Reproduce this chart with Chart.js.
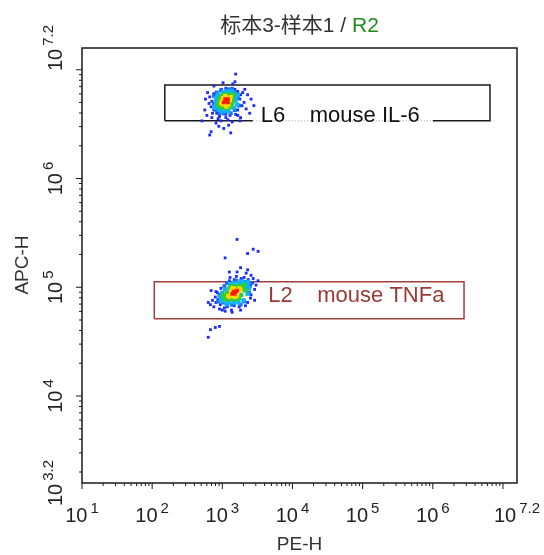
<!DOCTYPE html>
<html>
<head>
<meta charset="utf-8">
<script src="https://cdn.jsdelivr.net/npm/chart.js@4/dist/chart.umd.min.js"></script>
<style>
  html, body { margin: 0; padding: 0; background: #ffffff; }
  #grafico { display: block; }
</style>
</head>
<body>
<canvas id="grafico" width="544" height="555"></canvas>
<script>
// todos los valores en exponente log10 (PE-H, APC-H)
const xTicks = [1, 2, 3, 4, 5, 6, 7.2];
const xTickLabels = ['1', '2', '3', '4', '5', '6', '7.2'];
const yTicks = [3.2, 4, 5, 6, 7.2];
const yTickLabels = ['3.2', '4', '5', '6', '7.2'];

const gateIL6 = [[2.18, 6.53], [6.815, 6.86]];
const gateTNF = [[2.03, 4.71], [6.445, 5.05]];
const gateNames = ['L6', 'L2'];
const gateLabels = ['mouse IL-6', 'mouse TNFa'];

// cluster IL-6 (por densidad)
const il6Red = [[3.05,6.71],[3.08,6.70],[3.04,6.73],[3.06,6.72],[3.02,6.70],[3.08,6.73]];
const il6Yellow = [[2.99,6.71],[3.11,6.72],[3.05,6.75],[3.05,6.67],[3.01,6.74],[3.09,6.68],
  [3.01,6.68],[3.09,6.74],[3.12,6.75],[2.98,6.69],[3.06,6.66],[3.04,6.76]];
const il6Green = [[2.95,6.71],[3.15,6.71],[3.05,6.77],[3.05,6.65],[2.98,6.76],[3.12,6.66],
  [2.98,6.66],[3.12,6.76],[2.95,6.68],[3.15,6.74],[3.01,6.65],[3.09,6.77],[2.96,6.73],
  [3.14,6.69],[3.08,6.65],[3.02,6.77],[3.16,6.77],[2.94,6.67]];
const il6Cyan = [[2.91,6.71],[3.19,6.72],[3.05,6.80],[3.05,6.62],[2.94,6.77],[3.16,6.65],
  [2.94,6.65],[3.16,6.78],[2.91,6.67],[3.19,6.76],[2.99,6.62],[3.11,6.80],[2.91,6.74],
  [3.21,6.68],[3.09,6.62],[3.01,6.79],[2.96,6.63],[3.14,6.80],[3.22,6.77],[2.89,6.65]];
const il6Azure = [[2.88,6.69],[3.22,6.74],[3.08,6.82],[3.02,6.60],[2.92,6.79],[3.18,6.63],
  [2.92,6.63],[3.18,6.79],[2.88,6.76],[3.24,6.67],[3.12,6.60],[2.98,6.81],[2.89,6.65],
  [3.21,6.77],[3.14,6.82],[2.96,6.60]];
const il6Blue = [[2.85,6.71],[3.25,6.73],[3.05,6.83],[3.05,6.59],[2.88,6.78],[3.22,6.63],
  [2.88,6.63],[3.22,6.80],[2.84,6.66],[3.26,6.77],[2.96,6.59],[3.14,6.83],[2.82,6.75],
  [3.28,6.67],[3.11,6.58],[2.99,6.82],[2.92,6.60],[3.18,6.82],[3.29,6.79],[2.81,6.69],
  [2.86,6.60],[3.19,6.59],[2.94,6.55],[3.08,6.54],[2.98,6.53],[3.14,6.52],[2.91,6.51],
  [3.02,6.46],[2.84,6.43],[3.12,6.42],[2.78,6.58],[2.75,6.63],[2.76,6.73],[3.32,6.82],
  [3.36,6.77],[3.41,6.73],[3.34,6.64],[3.39,6.60],[3.18,6.89],[3.19,6.96],[3.15,6.87],
  [3.01,6.88],[2.88,6.85],[3.26,6.56],[2.96,6.57],[3.05,6.56],[3.22,6.58],[2.85,6.56],
  [3.31,6.70],[2.79,6.79],[3.09,6.49],[2.95,6.48],[3.25,6.53],[3.45,6.67],[2.71,6.53],
  [2.82,6.40]];

// cluster TNFa
const tnfRed = [[3.17,4.95],[3.20,4.96],[3.14,4.94],[3.18,4.94],[3.16,4.96],[3.21,4.97]];
const tnfYellow = [[3.11,4.93],[3.23,4.97],[3.17,4.99],[3.17,4.91],[3.13,4.97],[3.21,4.92],
  [3.10,4.91],[3.24,4.99],[3.26,4.98],[3.08,4.92],[3.18,4.91],[3.14,4.99]];
const tnfGreen = [[3.06,4.92],[3.28,4.98],[3.17,5.01],[3.17,4.89],[3.10,4.99],[3.24,4.90],
  [3.08,4.89],[3.26,5.01],[3.04,4.89],[3.30,5.00],[3.13,4.89],[3.21,5.01],[3.07,4.95],
  [3.27,4.93],[3.21,4.89],[3.13,5.01],[3.31,5.02],[3.03,4.90],[3.01,4.93],[3.33,4.97]];
const tnfCyan = [[3.00,4.90],[3.34,5.00],[3.17,5.04],[3.17,4.86],[3.04,4.98],[3.30,4.88],
  [3.03,4.87],[3.31,5.04],[2.98,4.88],[3.36,5.02],[3.10,4.86],[3.24,5.04],[3.00,4.95],
  [3.36,4.94],[3.23,4.86],[3.11,5.03],[3.06,4.85],[3.28,5.05],[3.37,5.05],[2.97,4.91],
  [3.38,4.99]];
const tnfAzure = [[2.97,4.89],[3.37,5.01],[3.20,5.06],[3.14,4.84],[3.03,5.01],[3.31,4.87],
  [3.01,4.86],[3.33,5.05],[2.96,4.93],[3.38,4.95],[3.26,4.84],[3.08,5.04],[3.07,4.83],
  [3.27,5.06],[3.40,5.03],[2.94,4.87]];
const tnfBlue = [[2.94,4.89],[3.40,5.01],[3.17,5.07],[3.17,4.83],[2.98,4.99],[3.36,4.86],
  [2.97,4.84],[3.37,5.07],[2.91,4.86],[3.43,5.04],[3.07,4.82],[3.27,5.08],[2.93,4.95],
  [3.41,4.93],[3.24,4.82],[3.10,5.06],[3.03,4.81],[3.31,5.09],[3.44,5.08],[2.90,4.91],
  [3.46,4.98],[3.00,4.79],[3.13,4.79],[3.26,4.79],[2.88,4.82],[2.86,4.88],[3.48,5.02],
  [3.51,5.06],[3.41,5.11],[3.34,5.13],[2.96,4.80],[3.06,5.04],[3.20,5.10],[3.33,4.83],
  [3.40,4.90],[2.83,4.84],[3.14,4.77],[3.04,4.78],[2.91,4.96],[3.46,4.88],
  [3.21,5.44],[3.04,5.27],[3.36,5.31],[3.44,5.35],[3.51,5.33],[3.10,5.14],[3.21,5.14],
  [3.26,5.18],[3.36,5.16],[3.11,5.09],[2.83,4.61],[2.90,4.63],[2.96,4.64],[2.80,4.54],
  [2.84,4.97],[2.80,4.86]];

const FUENTE = '"Liberation Sans", Arial, "Noto Sans CJK SC", sans-serif';

function pts(arr) {
    return arr.map(p => ({ x: 10 ** p[0], y: 10 ** p[1] }));
}

function caja(g) {
    const [[x1, y1], [x2, y2]] = g;
    return pts([[x1, y1], [x2, y1], [x2, y2], [x1, y2], [x1, y1]]);
}

function nube(datos, color, r) {
    return {
        data: pts(datos),
        backgroundColor: color,
        borderWidth: 0,
        pointStyle: 'rect',
        pointRadius: r
    };
}

// ejes, etiquetas y textos de las puertas
const decoracion = {
    id: 'decoracion',
    afterDraw(chart) {
        const ctx = chart.ctx;
        const xs = chart.scales.x, ys = chart.scales.y;
        const a = chart.chartArea;
        ctx.save();

        // etiquetas de puertas
        const g1x = xs.getPixelForValue(10 ** gateIL6[0][0]);
        const g1y = ys.getPixelForValue(10 ** gateIL6[0][1]);
        ctx.fillStyle = '#ffffff';
        ctx.fillRect(g1x + 88, g1y - 11, 180, 20);
        ctx.strokeStyle = '#999';
        ctx.lineWidth = 1;
        ctx.setLineDash([1, 2]);
        ctx.beginPath();
        ctx.moveTo(g1x + 88, g1y);
        ctx.lineTo(g1x + 268, g1y);
        ctx.stroke();
        ctx.setLineDash([]);
        ctx.font = '22px ' + FUENTE;
        ctx.fillStyle = '#111';
        ctx.textBaseline = 'middle';
        ctx.textAlign = 'left';
        ctx.fillText(gateNames[0], g1x + 96, g1y - 5);
        ctx.fillText(gateLabels[0], g1x + 145, g1y - 5);

        const g2x = xs.getPixelForValue(10 ** gateTNF[0][0]);
        const g2y = (ys.getPixelForValue(10 ** gateTNF[0][1]) + ys.getPixelForValue(10 ** gateTNF[1][1])) / 2;
        ctx.fillStyle = '#9a3a36';
        ctx.fillText(gateNames[1], g2x + 114, g2y - 4);
        ctx.fillText(gateLabels[1], g2x + 163, g2y - 4);

        // marco
        ctx.strokeStyle = '#1a1a1a';
        ctx.lineWidth = 1.5;
        ctx.strokeRect(a.left, a.top, a.right - a.left, a.bottom - a.top);

        // marcas menores y mayores
        ctx.lineWidth = 1;
        for (let d = 1; d < 8; d++) {
            for (let m = 1; m < 10; m++) {
                const v = m * 10 ** d;
                if (v < xs.min || v > xs.max) continue;
                const px = xs.getPixelForValue(v);
                const l = m === 1 ? 6 : 3;
                ctx.beginPath();
                ctx.moveTo(px, a.bottom);
                ctx.lineTo(px, a.bottom + l);
                ctx.stroke();
            }
        }
        for (let d = 3; d < 8; d++) {
            for (let m = 1; m < 10; m++) {
                const v = m * 10 ** d;
                if (v < ys.min || v > ys.max) continue;
                const py = ys.getPixelForValue(v);
                const l = m === 1 ? 6 : 3;
                ctx.beginPath();
                ctx.moveTo(a.left, py);
                ctx.lineTo(a.left - l, py);
                ctx.stroke();
            }
        }

        // etiquetas eje x
        ctx.fillStyle = '#222';
        ctx.textBaseline = 'alphabetic';
        xTicks.forEach((t, i) => {
            const px = xs.getPixelForValue(10 ** t);
            ctx.font = '20px ' + FUENTE;
            const w1 = ctx.measureText('10').width;
            ctx.font = '15px ' + FUENTE;
            const w2 = ctx.measureText(xTickLabels[i]).width;
            const x0 = px - (w1 + 3 + w2) / 2;
            ctx.font = '20px ' + FUENTE;
            ctx.fillText('10', x0, a.bottom + 39);
            ctx.font = '15px ' + FUENTE;
            ctx.fillText(xTickLabels[i], x0 + w1 + 3, a.bottom + 30);
        });

        // etiquetas eje y (giradas)
        yTicks.forEach((t, i) => {
            const py = ys.getPixelForValue(10 ** t);
            ctx.save();
            ctx.translate(a.left - 20, py);
            ctx.rotate(-Math.PI / 2);
            ctx.font = '20px ' + FUENTE;
            const w1 = ctx.measureText('10').width;
            ctx.font = '15px ' + FUENTE;
            const w2 = ctx.measureText(yTickLabels[i]).width;
            const x0 = -(w1 + 3 + w2) / 2;
            ctx.font = '20px ' + FUENTE;
            ctx.fillText('10', x0, 0);
            ctx.font = '15px ' + FUENTE;
            ctx.fillText(yTickLabels[i], x0 + w1 + 3, -9);
            ctx.restore();
        });

        // títulos de ejes
        ctx.fillStyle = '#333';
        ctx.font = '19px ' + FUENTE;
        ctx.textAlign = 'center';
        ctx.fillText('PE-H', (a.left + a.right) / 2, 550);
        ctx.save();
        ctx.translate(28, 265);
        ctx.rotate(-Math.PI / 2);
        ctx.fillText('APC-H', 0, 0);
        ctx.restore();

        // título
        ctx.font = '21px ' + FUENTE;
        const t1 = '标本3-样本1 / ';
        const t2 = 'R2';
        const w1 = ctx.measureText(t1).width;
        const w2 = ctx.measureText(t2).width;
        const tx = (a.left + a.right) / 2 - (w1 + w2) / 2;
        ctx.textAlign = 'left';
        ctx.fillStyle = '#333';
        ctx.fillText(t1, tx, 32);
        ctx.fillStyle = '#1f8a1f';
        ctx.fillText(t2, tx + w1, 32);

        ctx.restore();
    }
};

function crearGrafico() {
    const ctx = document.getElementById('grafico').getContext('2d');
    new Chart(ctx, {
        type: 'scatter',
        data: {
            datasets: [
                nube(il6Red, '#ff1a00', 2.6),
                nube(tnfRed, '#ff1a00', 2.6),
                nube(il6Yellow, '#ffd800', 2.8),
                nube(tnfYellow, '#ffd800', 2.8),
                nube(il6Green, '#33cc33', 3),
                nube(tnfGreen, '#33cc33', 3),
                nube(il6Cyan, '#0ab4ff', 3),
                nube(tnfCyan, '#0ab4ff', 3),
                nube(il6Azure, '#1e6cff', 2.8),
                nube(tnfAzure, '#1e6cff', 2.8),
                nube(il6Blue, '#1a2cf5', 2),
                nube(tnfBlue, '#1a2cf5', 2),
                {
                    data: caja(gateIL6),
                    showLine: true,
                    fill: false,
                    borderColor: '#1a1a1a',
                    borderWidth: 1.5,
                    pointRadius: 0,
                    tension: 0
                },
                {
                    data: caja(gateTNF),
                    showLine: true,
                    fill: false,
                    borderColor: '#a0403c',
                    borderWidth: 1.5,
                    pointRadius: 0,
                    tension: 0
                }
            ]
        },
        options: {
            responsive: false,
            animation: false,
            layout: { padding: { left: 82, right: 27, top: 48, bottom: 72 } },
            plugins: { legend: { display: false }, tooltip: { enabled: false } },
            scales: {
                x: { type: 'logarithmic', min: 10, max: 10 ** 7.2, display: false },
                y: { type: 'logarithmic', min: 10 ** 3.2, max: 10 ** 7.2, display: false }
            }
        },
        plugins: [decoracion]
    });
}

crearGrafico();
</script>
</body>
</html>
